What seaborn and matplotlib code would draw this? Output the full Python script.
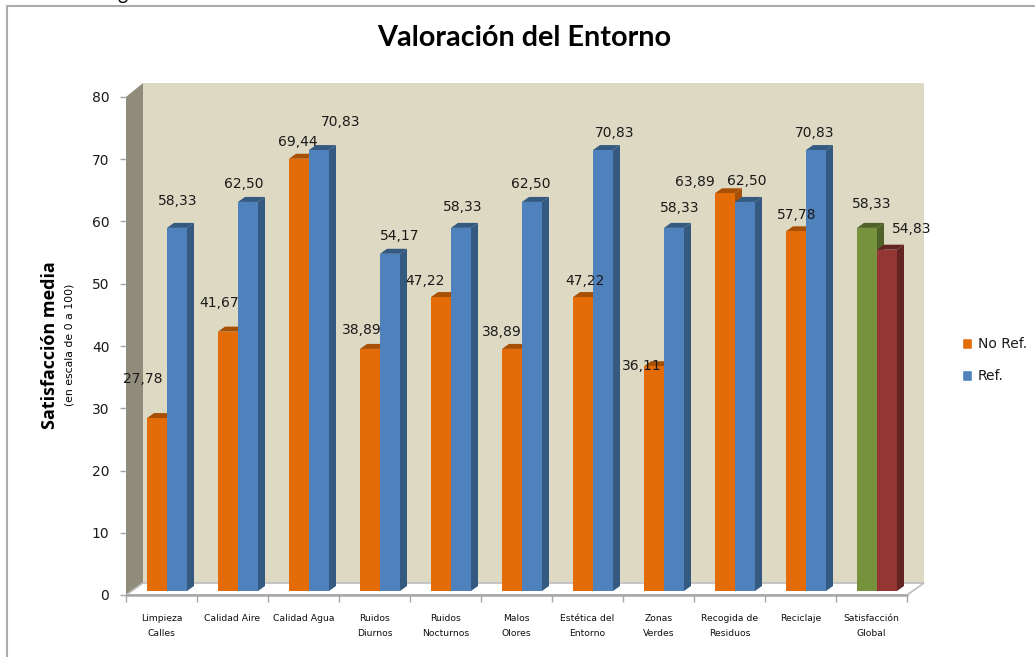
"""Valoración del Entorno: pseudo-3D grouped bars, Excel style."""

import matplotlib.pyplot as plt
from matplotlib.colors import to_hex
from matplotlib.patches import Polygon
import pandas as pd
import seaborn as sns

W, H = 1035, 657

CATEGORIES = [
    "Limpieza\nCalles", "Calidad Aire", "Calidad Agua", "Ruidos\nDiurnos",
    "Ruidos\nNocturnos", "Malos\nOlores", "Estética del\nEntorno", "Zonas\nVerdes",
    "Recogida de\nResiduos", "Reciclaje", "Satisfacción\nGlobal",
]
NO_REF = [27.78, 41.67, 69.44, 38.89, 47.22, 38.89, 47.22, 36.11, 63.89, 57.78, 58.33]
REF = [58.33, 62.50, 70.83, 54.17, 58.33, 62.50, 70.83, 58.33, 62.50, 70.83, 54.83]
Y_TICKS = [0, 10, 20, 30, 40, 50, 60, 70, 80]

# label offsets from the top of each bar, in pixels (placed by hand in the original)
NO_REF_OFFSETS = [(-14, 39), (-9, 29), (-1, 17), (-8, 19), (-16, 16), (-10, 17),
                  (2, 16), (-12, 0), (-30, 11), (1, 16), (5, 24)]
REF_OFFSETS = [(1, 27), (-4, 18), (22, 28), (10, 18), (2, 21), (-1, 18),
               (12, 17), (6, 20), (2, 21), (-1, 17), (25, 21)]

FACE = {"No Ref.": "#E36C09", "Ref.": "#4F81BD"}
DARK = {"#E36C09": "#A84F06", "#4F81BD": "#345A82", "#76923C": "#4F6228", "#943634": "#632423"}
GLOBAL_COLORS = ["#76923C", "#943634"]

DEPTH_X, DEPTH_Y = 7, 5  # bar depth in px
PX_PER_CAT = 781 / 11
PX_PER_UNIT = 498 / 80


def px_axes(fig, left, top, right, bottom):
    return fig.add_axes([left / W, 1 - bottom / H, (right - left) / W, (bottom - top) / H])


sns.set_theme(style="white")
plt.rcParams.update({"font.family": ["DejaVu Sans"], "text.color": "#1A1A1A"})

fig = plt.figure(figsize=(W / 100, H / 100), dpi=100, facecolor="white")

# ── background: chart frame and 3D walls, in pixel coordinates ──
bg = fig.add_axes([0, 0, 1, 1])
bg.set_xlim(0, W)
bg.set_ylim(H, 0)
bg.axis("off")
bg.plot([7, 7, 1034], [H, 6, 6], color="#ABABAB", lw=1.5)
bg.add_patch(Polygon([(143, 83), (924, 83), (924, 583), (143, 583)], fc="#DDD9C3", ec="none"))
bg.add_patch(Polygon([(126, 97), (143, 83), (143, 583), (126, 595)], fc="#8F8C7C", ec="none"))
bg.add_patch(Polygon([(126, 595), (143, 583), (924, 583), (907, 595)], fc="white", ec="#BDBDBD", lw=1.2))
bg.plot([126, 907], [595, 595], color="#A6A6A6", lw=1.8)

# ── axis frame: ticks and category labels ──
frame = px_axes(fig, 126, 97, 907, 595)
frame.patch.set_alpha(0)
frame.set_xlim(0, len(CATEGORIES))
frame.set_ylim(0, 80)
for side in ["top", "right", "bottom", "left"]:
    frame.spines[side].set_visible(False)
frame.set_yticks(Y_TICKS)
frame.tick_params(axis="y", left=True, length=4, width=1, color="#A6A6A6", labelsize=10, pad=8, labelcolor="#1A1A1A")
frame.set_xticks(range(len(CATEGORIES) + 1))
frame.set_xticklabels([])
frame.tick_params(axis="x", which="major", bottom=True, length=5, width=1, color="#A6A6A6")
frame.set_xticks([i + 0.5 for i in range(len(CATEGORIES))], minor=True)
frame.set_xticklabels(CATEGORIES, minor=True, fontsize=6.7, linespacing=1.75, color="#111111", va="top")
frame.tick_params(axis="x", which="minor", bottom=False, pad=10)

# ── bars: same scales, shifted by the bar inset on the floor ──
df = pd.DataFrame({
    "categoria": CATEGORIES * 2,
    "serie": ["No Ref."] * len(CATEGORIES) + ["Ref."] * len(CATEGORIES),
    "valor": NO_REF + REF,
})
ax = px_axes(fig, 126 + 5.5, 97 - 4, 907 + 5.5, 595 - 4)
ax.patch.set_alpha(0)
sns.barplot(data=df, x="categoria", y="valor", hue="serie", palette=FACE, hue_order=["No Ref.", "Ref."],
            order=CATEGORIES, width=40 / PX_PER_CAT, dodge=True, gap=0, saturation=1, errorbar=None, ax=ax)

handles, labels = ax.get_legend_handles_labels()
ax.get_legend().remove()

bars = list(ax.patches)[: 2 * len(CATEGORIES)]
n = len(CATEGORIES)
bars[n - 1].set_facecolor(GLOBAL_COLORS[0])
bars[2 * n - 1].set_facecolor(GLOBAL_COLORS[1])

dx = DEPTH_X / PX_PER_CAT
dy = DEPTH_Y / PX_PER_UNIT
for bar in bars:
    bar.set_zorder(3)
    bar.set_edgecolor("none")
    x0, x1 = bar.get_x(), bar.get_x() + bar.get_width()
    top = bar.get_height()
    dark = DARK[to_hex(bar.get_facecolor()).upper()]
    # side and top faces
    ax.fill([x1, x1 + dx, x1 + dx, x1], [0, dy, top + dy, top], color=dark, lw=0, zorder=2)
    ax.fill([x0, x0 + dx, x1 + dx, x1], [top, top + dy, top + dy, top], color=dark, lw=0, zorder=2)

ax.set_xlim(-0.5, len(CATEGORIES) - 0.5)
ax.set_ylim(0, 80)
ax.axis("off")

offsets = NO_REF_OFFSETS + REF_OFFSETS
values = NO_REF + REF
for bar, val, off in zip(bars, values, offsets):
    ax.annotate(f"{val:.2f}".replace(".", ","), xy=(bar.get_x() + bar.get_width() / 2, bar.get_height()),
                xytext=off, textcoords="offset pixels", ha="center", va="center",
                fontsize=10, color="#1A1A1A", zorder=6)

# ── texts ──
# the reference crops a line of text at the very top, only this descender survives
fig.text(122 / W, 1 + 6 / H, "g", family="Lato", fontsize=14, ha="center", va="center", color="black")
fig.text(524 / W, 1 - 38 / H, "Valoración del Entorno", family="Lato", fontweight="bold",
         fontsize=20.7, ha="center", va="center", color="black")
fig.text(50 / W, 1 - 345 / H, "Satisfacción media", family="Open Sans", fontweight="bold",
         fontsize=13, rotation=90, ha="center", va="center", color="black")
fig.text(70 / W, 1 - 345 / H, "(en escala de 0 a 100)", fontsize=7.8, rotation=90,
         ha="center", va="center", color="black")

fig.legend(handles, labels, loc="center left", bbox_to_anchor=(962 / W, 1 - 360 / H), frameon=False,
           fontsize=10, handlelength=0.7, handleheight=0.85, handletextpad=0.45, labelspacing=1.3,
           borderpad=0, borderaxespad=0)

fig.savefig("out.png", dpi=100)
